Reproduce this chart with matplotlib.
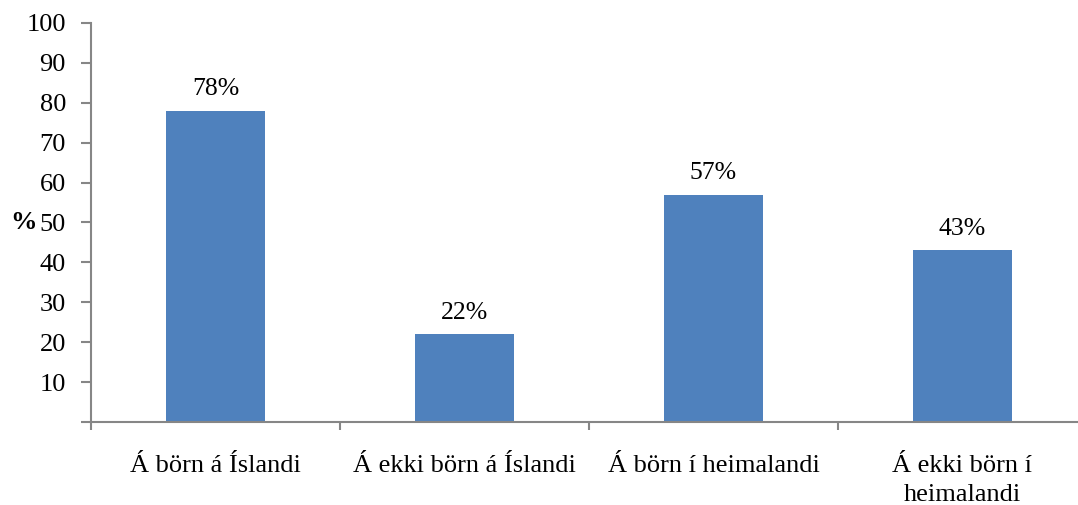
import matplotlib
matplotlib.use("Agg")
import matplotlib.pyplot as plt

categories = ["Á börn á Íslandi", "Á ekki börn á Íslandi", "Á börn í heimalandi", "Á ekki börn í\nheimalandi"]
values = [78, 22, 57, 43]
value_labels = ["78%", "22%", "57%", "43%"]
yticks = [10, 20, 30, 40, 50, 60, 70, 80, 90, 100]

plt.rcParams['font.family'] = ['Liberation Serif', 'DejaVu Serif']
fs = 19
gray = '#868686'

fig = plt.figure(figsize=(10.78, 5.05), dpi=100)
W, H = 1078, 505
left, bottom, top = 91, 422, 23
cat_w = 249
ax = fig.add_axes([left / W, (H - bottom) / H, 4 * cat_w / W, (bottom - top) / H])

x = list(range(len(categories)))
ax.bar(x, values, width=0.4, color='#4F81BD', zorder=2)
ax.set_xlim(-0.5, 3.5)
ax.set_ylim(0, 100)

for xi, v, lab in zip(x, values, value_labels):
    ax.annotate(lab, (xi, v), xytext=(0, 7.5), textcoords='offset points',
                ha='center', va='bottom', fontsize=18.5)

ax.set_yticks([0] + yticks)
ax.set_yticklabels([''] + [str(t) for t in yticks], fontsize=fs)
ax.set_xticks([-0.5, 0.5, 1.5, 2.5, 3.5])
ax.set_xticklabels([])
ax.set_xticks(x, minor=True)
ax.set_xticklabels(categories, minor=True, fontsize=fs, linespacing=1.4)
ax.tick_params(axis='x', which='minor', length=0, pad=24)
ax.tick_params(axis='x', which='major', length=6, width=1.5, color=gray, direction='out')
ax.tick_params(axis='y', length=7, width=1.5, color=gray, direction='out', pad=11)

for s in ['top', 'right']:
    ax.spines[s].set_visible(False)
for s in ['left', 'bottom']:
    ax.spines[s].set_color(gray)
    ax.spines[s].set_linewidth(1.5)

ax.set_ylabel('%', rotation=0, fontsize=fs, fontweight='bold', va='center')
ax.yaxis.set_label_coords(-0.068, 0.5)

fig.savefig('out.png', dpi=100)
